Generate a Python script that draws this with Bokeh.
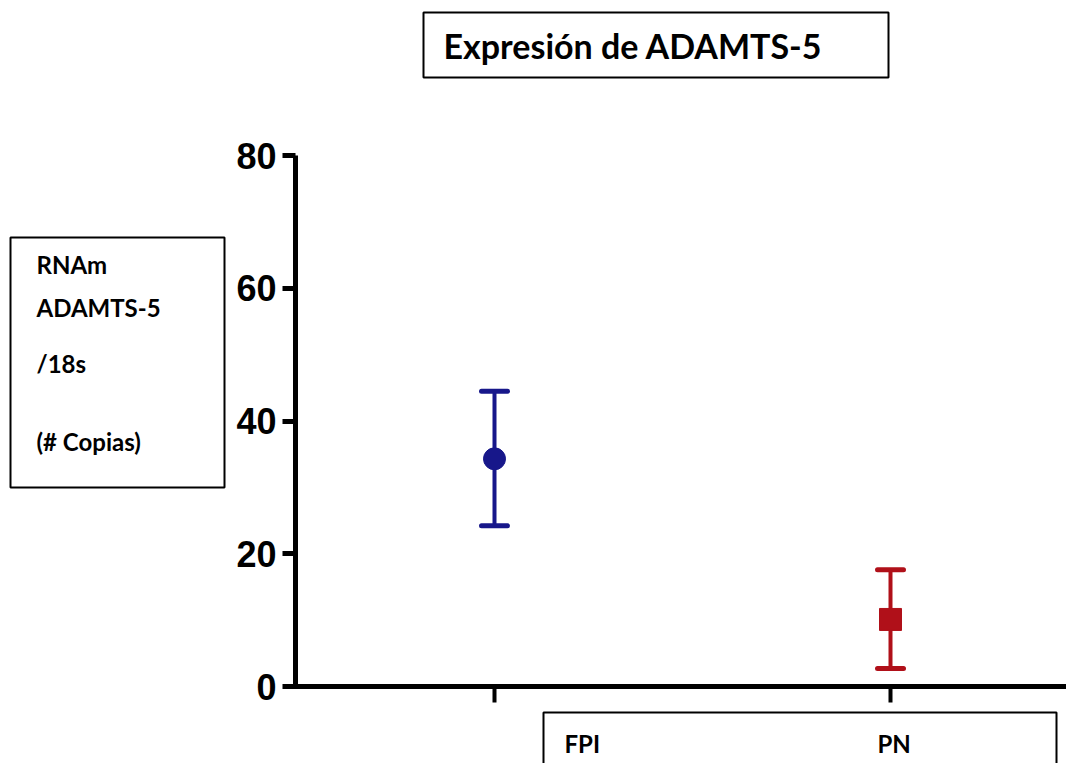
from bokeh.plotting import figure
from bokeh.models import Range1d, FixedTicker, BoxAnnotation, Label, ColumnDataSource
from bokeh.embed import file_html
from bokeh.resources import INLINE

# ---- data ----
groups = ["FPI", "PN"]
group_pos = [1, 2]
means = [34.3, 10.1]
upper = [44.5, 17.6]
lower = [24.2, 2.7]
colors = ["#17178A", "#B01019"]
markers = ["circle", "square"]
y_ticks = [0, 20, 40, 60, 80]
title_text = "Expresión de ADAMTS-5"
ylabel_lines = ["RNAm", "ADAMTS-5", "/18s", "(# Copias)"]

# ---- layout (canvas pixels) ----
W, H = 1066, 763
PX1, PX2 = 494, 890      # x of group 1 and group 2
PY0, PY80 = 686, 155     # y of value 0 and value 80
AX_X = 295               # y-axis pixel x


def cx(px):
    return 1 + (px - PX1) / (PX2 - PX1)


def cy(py):
    return 80 * (PY0 - py) / (PY0 - PY80)


p = figure(width=W, height=H, output_backend="svg", toolbar_location=None,
           x_range=Range1d(cx(0), cx(W)), y_range=Range1d(cy(H), cy(0)),
           min_border=0)
p.outline_line_color = None
p.grid.visible = False
p.background_fill_color = "white"
p.border_fill_color = "white"

# axes (drawn at fixed locations inside the frame)
ya = p.yaxis[0]
ya.fixed_location = cx(AX_X)
ya.ticker = FixedTicker(ticks=y_ticks)
ya.bounds = (0, 80)
ya.axis_line_width = 5
ya.major_tick_line_width = 5
ya.major_tick_out = 13
ya.major_tick_in = 0
ya.minor_tick_line_color = None
ya.major_label_standoff = 6
ya.major_label_text_font = "Liberation Sans"
ya.major_label_text_font_style = "bold"
ya.major_label_text_font_size = "36px"
ya.major_label_text_color = "black"

xa = p.xaxis[0]
xa.fixed_location = 0
xa.ticker = FixedTicker(ticks=group_pos)
xa.bounds = (cx(AX_X - 2), cx(W))
xa.axis_line_width = 5
xa.major_tick_line_width = 4
xa.major_tick_out = 16
xa.major_tick_in = 0
xa.minor_tick_line_color = None
xa.major_label_overrides = {g: "" for g in group_pos}

src = ColumnDataSource(dict(x=group_pos, m=means, u=upper, l=lower,
                            c=colors, mk=markers))

# error bars
p.segment(x0="x", y0="l", x1="x", y1="u", line_color="c", line_width=4, source=src)
p.scatter(x="x", y="u", marker="dash", size=26, line_color="c", line_width=5,
          line_cap="round", source=src)
p.scatter(x="x", y="l", marker="dash", size=26, line_color="c", line_width=5,
          line_cap="round", source=src)
# points
p.scatter(x="x", y="m", marker="mk", size=22, fill_color="c", line_color="c",
          source=src)


# ---- boxes and texts ----
def box(l, r, t, b):
    p.add_layout(BoxAnnotation(left=cx(l), right=cx(r), top=cy(t), bottom=cy(b),
                               fill_color=None, fill_alpha=0, line_color="black",
                               line_alpha=1, line_width=2, level="overlay"))


box(423, 888, 12, 77)
box(10, 224, 237, 487)
box(543, 1056, 712, 800)

TF = "Lato"


def label(txt, px, py, size):
    p.add_layout(Label(x=cx(px), y=cy(py), text=txt, text_font=TF,
                       text_font_style="bold", text_font_size=size,
                       text_color="black", text_align="left",
                       text_baseline="middle"))


label(title_text, 443, 45, "34px")
for txt, py in zip(ylabel_lines, [264, 307, 363, 441]):
    label(txt, 36, py, "24px")
for txt, px in zip(groups, [564, 877]):
    label(txt, px, 743, "24px")

open("out.html", "w").write(file_html(p, INLINE))
